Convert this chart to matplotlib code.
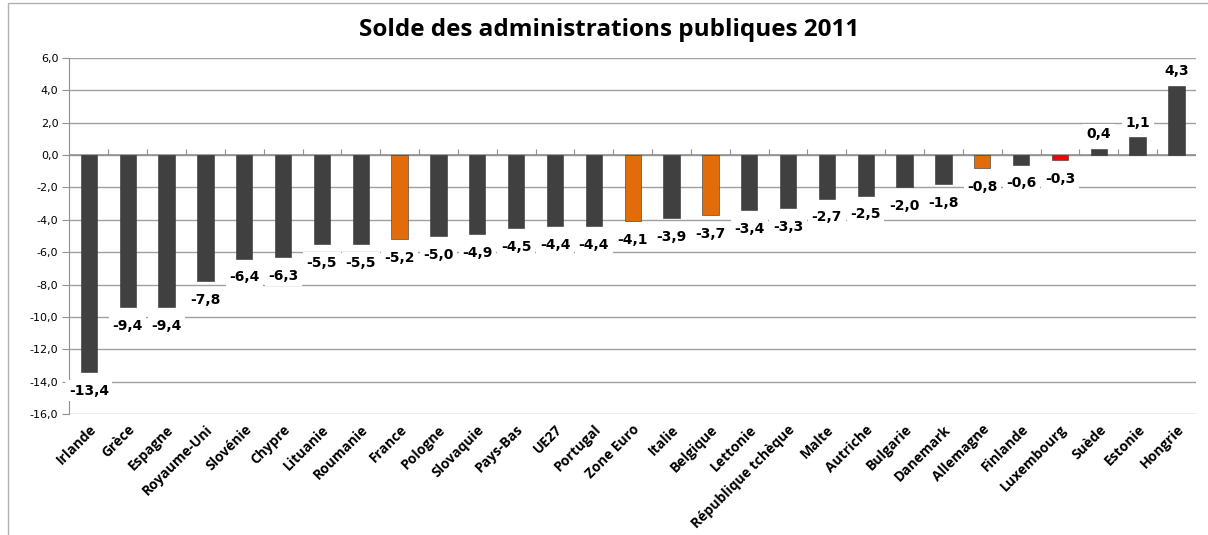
#!/usr/bin/env python3
"""Solde des administrations publiques 2011 - bar chart recreation."""

import matplotlib
matplotlib.use("Agg")
import matplotlib.pyplot as plt
from matplotlib.patches import Rectangle
from matplotlib.ticker import FuncFormatter, FixedLocator

pays = ["Irlande", "Grèce", "Espagne", "Royaume-Uni", "Slovénie", "Chypre",
        "Lituanie", "Roumanie", "France", "Pologne", "Slovaquie", "Pays-Bas",
        "UE27", "Portugal", "Zone Euro", "Italie", "Belgique", "Lettonie",
        "République tchèque", "Malte", "Autriche", "Bulgarie", "Danemark",
        "Allemagne", "Finlande", "Luxembourg", "Suède", "Estonie", "Hongrie"]
solde = [-13.4, -9.4, -9.4, -7.8, -6.4, -6.3, -5.5, -5.5, -5.2, -5.0, -4.9,
         -4.5, -4.4, -4.4, -4.1, -3.9, -3.7, -3.4, -3.3, -2.7, -2.5, -2.0,
         -1.8, -0.8, -0.6, -0.3, 0.4, 1.1, 4.3]
orange = ["France", "Zone Euro", "Belgique", "Allemagne"]
rouge = ["Luxembourg"]

GRIS = "#404040"
ORANGE = "#E36C0A"
RED = "#FF0000"


def couleur(p):
    if p in orange:
        return ORANGE
    if p in rouge:
        return RED
    return GRIS


def fr(v, _=None):
    return f"{v:.1f}".replace(".", ",")


fig = plt.figure(figsize=(12.08, 5.35), dpi=100)
ax = fig.add_axes([0.0575, 0.2262, 0.9325, 0.6654])

n = len(pays)
xs = list(range(n))
cols = [couleur(p) for p in pays]
ax.bar(xs, solde, width=0.42, color=cols, edgecolor="#333333", linewidth=0.4, zorder=3)

ymin, ymax = -16, 6
ax.set_ylim(ymin, ymax)
ax.set_xlim(-0.5, n - 0.5)
ax.set_yticks(range(ymin, ymax + 1, 2))
ax.yaxis.set_major_formatter(FuncFormatter(fr))
ax.grid(axis="y", color="#A0A0A0", linewidth=1, zorder=0)
ax.axhline(0, color="#909090", linewidth=1.2, zorder=2)

for s in ["top", "right", "bottom"]:
    ax.spines[s].set_visible(False)
ax.spines["left"].set_color("#909090")
ax.tick_params(axis="y", length=5, color="#909090", labelsize=8, pad=3)
for t in ax.get_yticklabels():
    t.set_family("DejaVu Sans")

ax.set_xticks(xs)
ax.set_xticklabels(pays, rotation=45, ha="right", rotation_mode="anchor",
                   fontsize=10, fontweight="bold", family="Open Sans")
ax.tick_params(axis="x", length=0, pad=6)

# petites graduations sur l'axe zéro, entre les catégories
sec = ax.secondary_xaxis((0 - ymin) / (ymax - ymin))
sec.xaxis.set_major_locator(FixedLocator([i + 0.5 for i in range(n - 1)]))
sec.set_xticklabels([])
sec.tick_params(length=4, color="#909090", direction="out")
for s in sec.spines.values():
    s.set_visible(False)

for x, v in zip(xs, solde):
    off = -1.15 if v < 0 else 0.9
    ax.text(x, v + off, fr(v), ha="center", va="center", fontsize=10,
            fontweight="bold", family="DejaVu Sans", zorder=4,
            bbox=dict(facecolor="white", edgecolor="none", pad=2.5))

fig.text(0.504, 0.944, "Solde des administrations publiques 2011",
         ha="center", va="center", fontsize=17.5, fontweight="bold",
         family="Open Sans")

# cadre du graphique
fig.patches.append(Rectangle((8 / 1208, -0.1), 1.2, 1.1 - 3 / 535,
                             transform=fig.transFigure, fill=False,
                             edgecolor="#B0B0B0", linewidth=1))

fig.savefig("out.png", dpi=100)
